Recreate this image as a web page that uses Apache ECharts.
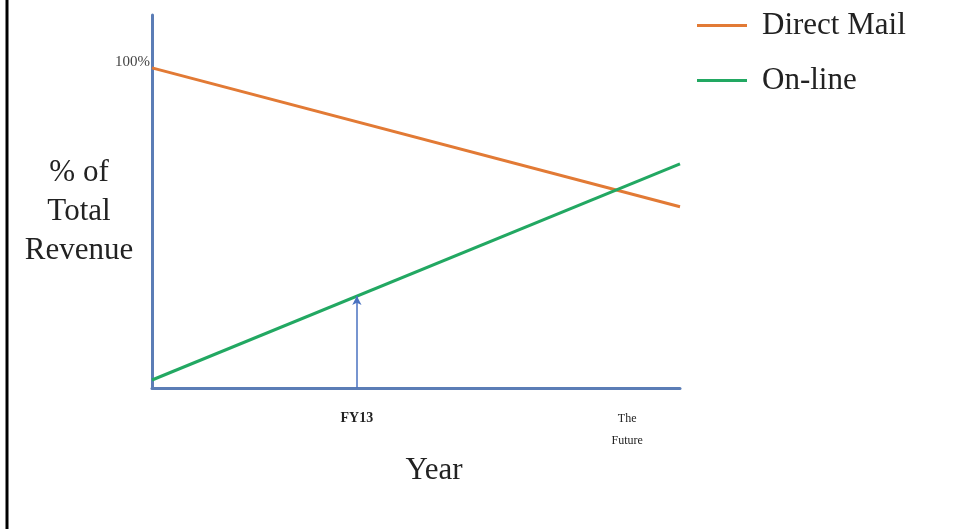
<!DOCTYPE html>
<html>
<head>
<meta charset="utf-8">
<script src="https://cdn.jsdelivr.net/npm/echarts@6/dist/echarts.min.js"></script>
<style>
  html, body { margin: 0; padding: 0; background: #fff; }
  #chart { width: 960px; height: 529px; }
</style>
</head>
<body>
<div id="chart"></div>
<script>
// Share of total revenue by channel, from the start of the period out to "the future"
const timeline = [0, 100];
const directMail = [100, 56.6];
const online = [2.5, 70];
// Labelled points on the time axis
const milestonePositions = [38.8, 90];
const milestoneLabels = ['{b|FY13}', '{f|The}\n{f|Future}'];
// Online share at FY13 (arrow target)
const fy13Online = 28.7;
const yTitle = '% of\nTotal\nRevenue';

const serif = '"Liberation Serif", "DejaVu Serif", serif';
const axisColor = '#5b7db6';

const chart = echarts.init(document.getElementById('chart'));
chart.setOption({
  animation: false,
  backgroundColor: '#ffffff',
  grid: { left: 152, right: 280, top: 15, bottom: 141, containLabel: false, outerBoundsMode: 'none' },
  legend: {
    left: 692, top: 5,
    orient: 'vertical',
    itemWidth: 50, itemHeight: 3, itemGap: 24,
    icon: 'rect',
    textStyle: { fontFamily: serif, fontSize: 31, color: '#222', padding: [0, 0, 0, 10] },
    data: ['Direct Mail', 'On-line']
  },
  xAxis: {
    type: 'value', min: 0, max: 100,
    splitLine: { show: false },
    axisLine: { lineStyle: { color: axisColor, width: 3 } },
    axisTick: { show: false },
    axisLabel: {
      customValues: milestonePositions,
      formatter: v => milestoneLabels[milestonePositions.indexOf(v)] || '',
      color: '#222', margin: 20,
      rich: {
        b: { fontFamily: serif, fontSize: 14, fontWeight: 'bold', color: '#222', padding: [3, 0, 0, 0] },
        f: { fontFamily: serif, fontSize: 12, color: '#222', lineHeight: 22 }
      }
    },
    name: 'Year', nameLocation: 'middle', nameGap: 67,
    nameTextStyle: { fontFamily: serif, fontSize: 31, color: '#222', padding: [0, 0, 0, 36] }
  },
  yAxis: {
    type: 'value', min: 0, max: 116.5, interval: 100,
    splitLine: { show: false },
    axisLine: { show: true, lineStyle: { color: axisColor, width: 3 } },
    axisTick: { show: false },
    axisLabel: {
      formatter: v => (v === 100 ? '100%' : ''),
      fontFamily: serif, fontSize: 15, color: '#444', margin: 2,
      verticalAlign: 'bottom', lineHeight: 12
    }
  },
  series: [
    {
      name: 'Direct Mail', type: 'line', symbol: 'none',
      lineStyle: { color: '#e27a35', width: 3 }, itemStyle: { color: '#e27a35' },
      data: timeline.map((x, i) => [x, directMail[i]]),
      z: 3
    },
    {
      name: 'On-line', type: 'line', symbol: 'none',
      lineStyle: { color: '#22a862', width: 3 }, itemStyle: { color: '#22a862' },
      data: timeline.map((x, i) => [x, online[i]]),
      z: 4,
      markLine: {
        silent: true,
        symbol: ['none', 'arrow'], symbolSize: [7, 9],
        label: { show: false },
        lineStyle: { color: '#4a72c0', width: 1.5, type: 'solid' },
        data: [[{ coord: [milestonePositions[0], 0] }, { coord: [milestonePositions[0], fy13Online] }]]
      }
    }
  ],
  graphic: [
    { type: 'line', shape: { x1: 7, y1: 0, x2: 7, y2: 529 }, style: { stroke: '#000', lineWidth: 3 } },
    {
      type: 'text', x: 79, y: 212,
      style: {
        text: yTitle, font: '31px ' + serif, fill: '#222',
        align: 'center', verticalAlign: 'middle', lineHeight: 39
      }
    }
  ]
});
</script>
</body>
</html>
